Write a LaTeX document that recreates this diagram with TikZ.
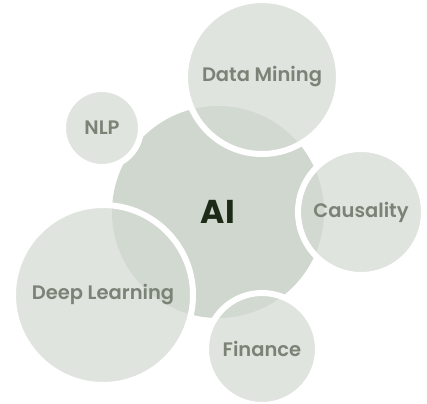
\documentclass[tikz,border=0pt]{standalone}
\usepackage{fontspec}
\setmainfont{Poppins}
\newfontfamily\labfont{Poppins SemiBold}
\definecolor{aifill}{RGB}{207,215,206}
\definecolor{outfill}{RGB}{212,219,211}
\definecolor{labgray}{RGB}{123,130,118}
\definecolor{aitext}{RGB}{30,42,24}
\tikzset{
  bubble/.style={circle, draw=white, line width=6pt, fill=outfill, fill opacity=0.75,
    text opacity=1, text=labgray, font=\labfont\fontsize{19.5}{22}\selectfont, inner sep=0pt},
  center/.style={circle, fill=aifill, inner sep=0pt, text=aitext,
    font=\bfseries\fontsize{33}{38}\selectfont}
}
\begin{document}
\begin{tikzpicture}[x=1pt,y=-1pt]
\useasboundingbox (0,0) rectangle (427,403);
\node[center, minimum size=212pt] (ai) at (218,212) {AI};
\node[bubble, minimum size=154pt] (dm) at (262,77) {Data Mining};
\node[bubble, minimum size=78pt] (nlp) at (102,128) {NLP};
\node[bubble, minimum size=126pt] (caus) at (361,212) {Causality};
\node[bubble, minimum size=180pt] (dl) at (103,295) {Deep Learning};
\node[bubble, minimum size=112pt] (fin) at (262,349) {Finance};
\end{tikzpicture}
\end{document}
